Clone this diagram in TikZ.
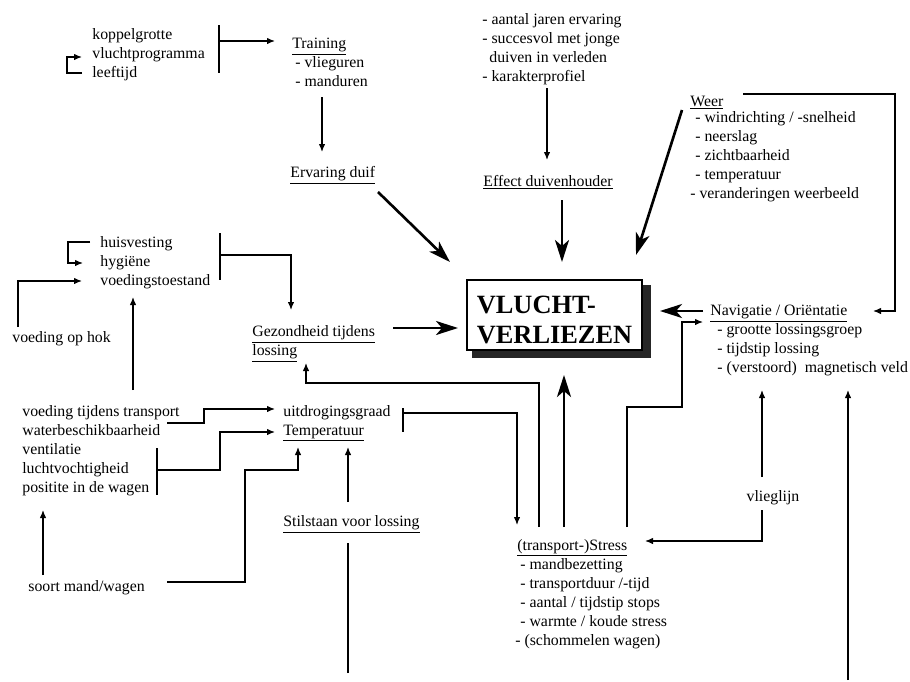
\documentclass[tikz,border=0pt]{standalone}
\usepackage{fontspec}
\setmainfont{Liberation Serif}
\usetikzlibrary{calc, arrows.meta}

\tikzset{
    tekst/.style={anchor=base west, inner sep=0pt, align=left,
        font=\fontsize{9}{10.8}\selectfont},
    pijl/.style={line width=0.7pt, -{Latex[length=1.6mm, width=1.3mm]}},
    lijn/.style={line width=0.7pt},
    dik/.style={line width=1.5pt, -{Stealth[length=4.4mm, width=2.8mm, inset=1.2mm]}}
}

\begin{document}
\begin{tikzpicture}[x=0.2mm, y=-0.2mm]
    \useasboundingbox (0,0) rectangle (910,682);

    \node[tekst] (koppel) at (92,77) {koppelgrotte\\vluchtprogramma\\leeftijd};
    \node[tekst] (training) at (292,48) {\underline{Training}};
    \node[tekst] (trainlijst) at (295,86) {- vlieguren\\- manduren};
    \node[tekst] (ervaring) at (290,177) {\underline{Ervaring duif}};
    \node[tekst] (houder) at (482,81) {- aantal jaren ervaring\\- succesvol met jonge\\\hspace*{1.4mm}duiven in verleden\\- karakterprofiel};
    \node[tekst] (effect) at (483,186) {\underline{Effect duivenhouder}};
    \node[tekst] (weer) at (690,106) {\underline{Weer}};
    \node[tekst] (weerlijst) at (690,198) {\hspace*{1mm}- windrichting / -snelheid\\\hspace*{1mm}- neerslag\\\hspace*{1mm}- zichtbaarheid\\\hspace*{1mm}- temperatuur\\- veranderingen weerbeeld};
    \node[tekst] (navigatie) at (710,315) {\underline{Navigatie / Oriëntatie}};
    \node[tekst] (navlijst) at (717,372) {- grootte lossingsgroep\\- tijdstip lossing\\- (verstoord)\ \ magnetisch veld};
    \node[tekst] (huis) at (100,285) {huisvesting\\hygiëne\\voedingstoestand};
    \node[tekst] (hok) at (12,342) {voeding op hok};
    \node[tekst] (gezond) at (252,355) {\underline{Gezondheid tijdens}\\\underline{lossing}};
    \node[tekst] (transport) at (22,492) {voeding tijdens transport\\waterbeschikbaarheid\\ventilatie\\luchtvochtigheid\\positite in de wagen};
    \node[tekst] (uitdr) at (283,416) {uitdrogingsgraad};
    \node[tekst] (temp) at (283,435) {\underline{Temperatuur}};
    \node[tekst] (stilstaan) at (283,526) {\underline{Stilstaan voor lossing}};
    \node[tekst] (soort) at (28,591) {soort mand/wagen};
    \node[tekst] (stress) at (517,550) {\underline{(transport-)Stress}};
    \node[tekst] (stresslijst) at (520,645) {- mandbezetting\\- transportduur /-tijd\\- aantal / tijdstip stops\\- warmte / koude stress\\\hspace*{-1mm}- (schommelen wagen)};
    \node[tekst, anchor=base] (vlieglijn) at (773,501) {vlieglijn};

    \fill[black!85] (472,350) rectangle (651,358);
    \fill[black!85] (642,285) rectangle (651,358);
    \node[draw, fill=white, line width=0.8pt, minimum width=35mm, minimum height=14mm]
        (vlucht) at (554.5,315) {};
    \node[align=left, inner sep=0pt, font=\fontsize{15}{17}\selectfont\bfseries]
        (vluchttekst) at (554.5,320) {VLUCHT-\\VERLIEZEN};

    \draw[pijl] (82,73) -- (67,73) -- (67,57) -- (82,57);
    \draw[lijn] (219,25) -- (219,73);
    \draw[pijl] (219,41) -- (275,41);
    \draw[pijl] (322,97) -- (322,152);
    \draw[dik] (378,192) -- (450,262);
    \draw[pijl] (547,88) -- (547,160);
    \draw[dik] (562,200) -- (562,262);
    \draw[dik] (682,110) -- (636,255);
    \draw[pijl] (743,94) -- (895,94) -- (895,311) -- (873,311);
    \draw[dik] (703,311) -- (660,311);
    \draw[pijl] (627,527) -- (627,407) -- (682,407) -- (682,322) -- (703,322);
    \draw[dik] (564,527) -- (564,375);
    \draw[pijl] (539,527) -- (539,383) -- (306,383) -- (306,363);
    \draw[dik] (393,328) -- (458,328);

    \draw[lijn] (220,233) -- (220,280);
    \draw[pijl] (220,255) -- (291,255) -- (291,310);
    \draw[pijl] (90,242) -- (68,242) -- (68,263) -- (83,263);
    \draw[pijl] (18,327) -- (18,281) -- (82,281);
    \draw[pijl] (133,390) -- (133,297);
    \draw[pijl] (167,423) -- (204,423) -- (204,409) -- (275,409);
    \draw[lijn] (157,448) -- (157,495);
    \draw[pijl] (157,470) -- (220,470) -- (220,432) -- (275,432);
    \draw[pijl] (167,582) -- (245,582) -- (245,470) -- (298,470) -- (298,447);
    \draw[pijl] (348,502) -- (348,447);
    \draw[lijn] (348,673) -- (348,543);
    \draw[pijl] (43,575) -- (43,510);
    \draw[lijn] (403,408) -- (403,432);
    \draw[pijl] (403,413) -- (517,413) -- (517,525);
    \draw[pijl] (762,510) -- (762,541) -- (645,541);
    \draw[pijl] (762,477) -- (762,390);
    \draw[pijl] (848,680) -- (848,390);
\end{tikzpicture}
\end{document}
